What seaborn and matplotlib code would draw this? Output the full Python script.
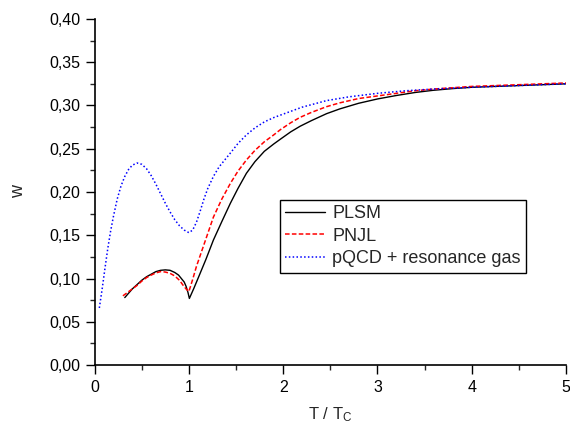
import numpy as np
import pandas as pd
import matplotlib
matplotlib.use("Agg")
import matplotlib.pyplot as plt
import seaborn as sns
from matplotlib.ticker import MultipleLocator

# ---- data ----
plsm_x = [0.32, 0.36, 0.40, 0.45, 0.50, 0.55, 0.60, 0.65, 0.70, 0.75, 0.80, 0.85, 0.89, 0.92,
          0.95, 0.97, 0.99, 1.005, 1.05, 1.10, 1.18, 1.26, 1.35, 1.44, 1.52, 1.61, 1.70, 1.80,
          1.90, 1.97, 2.08, 2.18, 2.30, 2.46, 2.60, 2.80, 3.00, 3.20, 3.40, 3.59, 3.80, 4.00,
          4.50, 5.00]
plsm_y = [0.078, 0.083, 0.088, 0.093, 0.098, 0.102, 0.105, 0.108, 0.1095, 0.110, 0.1095, 0.107,
          0.104, 0.100, 0.096, 0.091, 0.084, 0.077, 0.088, 0.101, 0.122, 0.1445, 0.166, 0.187,
          0.204, 0.2216, 0.235, 0.247, 0.2555, 0.261, 0.2695, 0.276, 0.2825, 0.2905, 0.296,
          0.3025, 0.3075, 0.3115, 0.315, 0.3175, 0.3195, 0.321, 0.323, 0.325]

pnjl_x = [0.30, 0.35, 0.40, 0.45, 0.50, 0.55, 0.60, 0.65, 0.70, 0.75, 0.80, 0.85, 0.90, 0.94,
          0.97, 1.00, 1.04, 1.08, 1.14, 1.20, 1.26, 1.35, 1.44, 1.52, 1.61, 1.70, 1.80, 1.90,
          1.97, 2.08, 2.18, 2.30, 2.46, 2.60, 2.80, 3.00, 3.20, 3.40, 3.60, 3.80, 4.00, 4.50, 5.00]
pnjl_y = [0.080, 0.084, 0.088, 0.092, 0.097, 0.101, 0.104, 0.1065, 0.108, 0.1075, 0.106, 0.103,
          0.098, 0.092, 0.088, 0.085, 0.099, 0.114, 0.133, 0.152, 0.171, 0.192, 0.210, 0.224,
          0.237, 0.248, 0.258, 0.266, 0.272, 0.280, 0.2863, 0.292, 0.2986, 0.303, 0.308, 0.311,
          0.314, 0.317, 0.319, 0.3205, 0.322, 0.324, 0.326]

pqcd_x = [0.05, 0.08, 0.11, 0.14, 0.17, 0.20, 0.24, 0.28, 0.32, 0.36, 0.40, 0.45, 0.50, 0.55,
          0.60, 0.65, 0.70, 0.75, 0.80, 0.85, 0.90, 0.95, 1.00, 1.04, 1.08, 1.12, 1.16, 1.20,
          1.26, 1.32, 1.38, 1.44, 1.52, 1.61, 1.70, 1.80, 1.90, 2.00, 2.20, 2.46, 2.70, 3.00,
          3.30, 3.60, 4.00, 4.50, 5.00]
pqcd_y = [0.066, 0.088, 0.112, 0.135, 0.155, 0.172, 0.192, 0.207, 0.218, 0.226, 0.231, 0.2335,
          0.232, 0.227, 0.219, 0.209, 0.198, 0.187, 0.177, 0.168, 0.161, 0.156, 0.153, 0.156,
          0.165, 0.178, 0.192, 0.204, 0.218, 0.229, 0.237, 0.245, 0.256, 0.266, 0.274, 0.281,
          0.286, 0.290, 0.298, 0.3056, 0.310, 0.314, 0.317, 0.319, 0.321, 0.323, 0.325]

series_names = ["PLSM", "PNJL", "pQCD + resonance gas"]

x_ticks = [0, 1, 2, 3, 4, 5]
x_tick_labels = ["0", "1", "2", "3", "4", "5"]
y_ticks = [0.00, 0.05, 0.10, 0.15, 0.20, 0.25, 0.30, 0.35, 0.40]
y_tick_labels = ["0,00", "0,05", "0,10", "0,15", "0,20", "0,25", "0,30", "0,35", "0,40"]

# ---- build long table ----
df = pd.concat([
    pd.DataFrame({"T": plsm_x, "w": plsm_y, "model": series_names[0]}),
    pd.DataFrame({"T": pnjl_x, "w": pnjl_y, "model": series_names[1]}),
    pd.DataFrame({"T": pqcd_x, "w": pqcd_y, "model": series_names[2]}),
])

sns.set_style("ticks")
plt.rcParams["font.family"] = ["Liberation Sans", "DejaVu Sans"]
plt.rcParams["mathtext.fontset"] = "custom"
plt.rcParams["mathtext.rm"] = "Liberation Sans"
plt.rcParams["mathtext.it"] = "Liberation Sans:italic"

fig = plt.figure(figsize=(5.7, 4.3), dpi=100)
ax = fig.add_axes([0.166, 0.151, 0.827, 0.805])

palette = {series_names[0]: "black", series_names[1]: "red", series_names[2]: "blue"}
dashes = {series_names[0]: "", series_names[1]: (3, 1.5), series_names[2]: (1, 1.5)}
widths = {series_names[0]: 1.0, series_names[1]: 1.1, series_names[2]: 1.1}

for name in series_names:
    sub = df[df["model"] == name]
    sns.lineplot(data=sub, x="T", y="w", ax=ax, color=palette[name],
                 lw=widths[name], label=name, sort=False, estimator=None)
    line = ax.lines[-1]
    line.set_solid_joinstyle("round")
    line.set_dash_joinstyle("round")
    if dashes[name]:
        line.set_dashes(dashes[name])

ax.set_xlim(0, 5)
ax.set_ylim(0, 0.40)
ax.set_xticks(x_ticks)
ax.set_xticklabels(x_tick_labels)
ax.set_yticks(y_ticks)
ax.set_yticklabels(y_tick_labels)
ax.xaxis.set_minor_locator(MultipleLocator(0.5))
ax.yaxis.set_minor_locator(MultipleLocator(0.025))
ax.tick_params(axis="both", which="major", length=6.5, width=1.0, direction="out",
               labelsize=11.5, colors="black", pad=4)
ax.tick_params(axis="both", which="minor", length=3.5, width=1.0, direction="out")

for s in ["top", "right"]:
    ax.spines[s].set_visible(False)
for s in ["left", "bottom"]:
    ax.spines[s].set_linewidth(1.2)
    ax.spines[s].set_color("black")

ax.set_xlabel(r"T / T$_{\mathrm{C}}$", fontsize=12, labelpad=8)
ax.set_ylabel("w", fontsize=13, labelpad=16)

leg = ax.legend(loc="upper left", bbox_to_anchor=(0.393, 0.477), fontsize=13,
                frameon=True, fancybox=False, edgecolor="black", framealpha=1,
                handlelength=2.2, handletextpad=0.4, borderpad=0.3,
                labelspacing=0.3, borderaxespad=0)
leg.get_frame().set_linewidth(1.0)

fig.savefig("out.png", dpi=100)
